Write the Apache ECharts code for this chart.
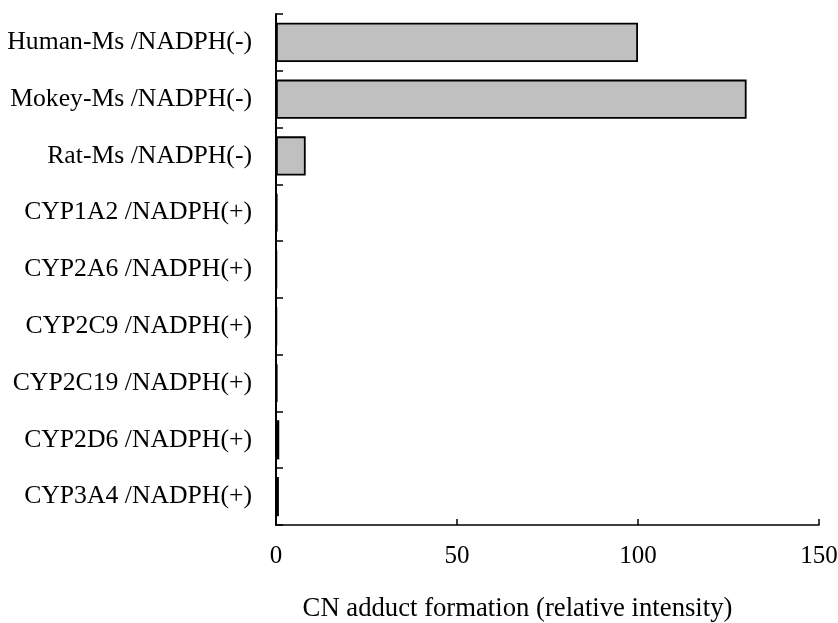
<!DOCTYPE html>
<html>
<head>
<meta charset="utf-8">
<script src="https://cdn.jsdelivr.net/npm/echarts@6/dist/echarts.min.js"></script>
<style>
  html, body { margin: 0; padding: 0; background: #ffffff; overflow: hidden; }
  #chart { width: 838px; height: 623px; overflow: hidden; }
</style>
</head>
<body>
<div id="chart"></div>
<script>
// Samples, listed top to bottom
const categories = [
  'Human-Ms /NADPH(-)',
  'Mokey-Ms /NADPH(-)',
  'Rat-Ms /NADPH(-)',
  'CYP1A2 /NADPH(+)',
  'CYP2A6 /NADPH(+)',
  'CYP2C9 /NADPH(+)',
  'CYP2C19 /NADPH(+)',
  'CYP2D6 /NADPH(+)',
  'CYP3A4 /NADPH(+)'
];

// CN adduct formation (relative intensity)
const adductValues = [100, 130, 8.2, 0.4, 0.2, 0.2, 0.4, 0.9, 0.8];

const xTicks = { min: 0, max: 150, step: 50 };
const xTitle = 'CN adduct formation (relative intensity)';

const fontFamily = '"Liberation Serif", "DejaVu Serif", serif';

const chart = echarts.init(document.getElementById('chart'), null, { renderer: 'canvas', width: 838, height: 623 });

chart.setOption({
  backgroundColor: '#ffffff',
  animation: false,
  grid: {
    left: 276, right: 19, top: 14, bottom: 98,
    containLabel: false,
    outerBoundsMode: 'none'
  },
  xAxis: {
    type: 'value',
    min: xTicks.min,
    max: xTicks.max,
    interval: xTicks.step,
    name: xTitle,
    nameLocation: 'middle',
    nameGap: 70,
    nameTextStyle: {
      fontFamily: fontFamily,
      fontSize: 26.7,
      color: '#000',
      padding: [0, 60, 0, 0]
    },
    axisLine: { show: true, lineStyle: { color: '#000', width: 1.5 } },
    axisTick: { show: true, inside: true, length: 6, lineStyle: { color: '#000', width: 1.5 } },
    axisLabel: { fontFamily: fontFamily, fontSize: 25, color: '#000', margin: 19 },
    splitLine: { show: false }
  },
  yAxis: {
    type: 'category',
    data: categories,
    inverse: true,
    axisLine: { show: true, lineStyle: { color: '#000', width: 2 } },
    axisTick: { show: true, inside: true, length: 7, alignWithLabel: false, lineStyle: { color: '#000', width: 1.5 } },
    axisLabel: { fontFamily: fontFamily, fontSize: 25.7, color: '#000', margin: 24 },
    splitLine: { show: false }
  },
  series: [{
    type: 'bar',
    data: adductValues,
    barCategoryGap: '31%',
    itemStyle: { color: '#c0c0c0', borderColor: '#000', borderWidth: 1.8 },
    silent: true
  }]
});
</script>
</body>
</html>
